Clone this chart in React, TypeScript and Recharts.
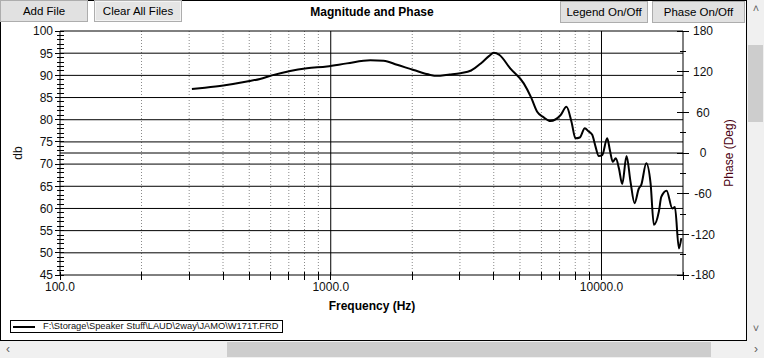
import React from 'react';
import { LineChart, Line, XAxis, YAxis, ReferenceLine, Legend } from 'recharts';

// ---- data ----
const freqHz = [
  307, 343, 401, 490, 548, 606, 708, 817, 968, 1148, 1400, 1567, 1757, 2024, 2333, 2450,
  2750, 3011, 3300, 3600, 3850, 3999, 4200, 4610, 5162, 5500, 5786, 6100, 6478, 7054,
  7424, 7750, 8014, 8313, 8678, 8950, 9241, 9500, 9772, 10060, 10497, 10750, 11010, 11294,
  11600, 11928, 12374, 12800, 13244, 13737, 14022, 14633, 15178, 15611, 16290, 16627,
  17396, 18261, 18669, 19315, 19716,
];
const dbValues = [
  86.9, 87.2, 87.7, 88.6, 89.2, 90.0, 91.0, 91.6, 92.0, 92.7, 93.4, 93.3, 92.4, 91.2, 90.1, 89.9,
  90.2, 90.5, 91.1, 92.8, 94.4, 95.1, 94.6, 91.5, 88.2, 85.0, 81.8, 80.6, 79.7, 81.0,
  82.9, 79.5, 75.8, 76.0, 78.1, 77.4, 76.6, 74.0, 71.8, 72.0, 75.8, 73.0, 70.5, 71.3,
  69.0, 65.5, 71.8, 66.0, 61.2, 64.5, 65.3, 70.2, 65.7, 56.3, 59.3, 62.6,
  64.0, 60.0, 60.3, 51.0, 53.3,
];
const fileName = 'F:\\Storage\\Speaker Stuff\\LAUD\\2way\\JAMO\\W171T.FRD';

const dbDomain = [45, 100];
const dbTicks: number[] = [];
for (let v = 45; v <= 100; v++) dbTicks.push(v);
const dbGrid = [50, 55, 60, 65, 70, 75, 80, 85, 90, 95, 100];
const phaseDomain = [-180, 180];
const phaseTicks = [-180, -150, -120, -90, -60, -30, 0, 30, 60, 90, 120, 150, 180];
const freqDomain = [100, 20000];
const freqTicks = [100, 200, 300, 400, 500, 600, 700, 800, 900, 1000, 2000, 3000, 4000, 5000, 6000, 7000, 8000, 9000, 10000, 20000];
const freqLabelTicks = [100, 1000, 10000];
const minorFreqGrid = [200, 300, 400, 500, 600, 700, 800, 900, 2000, 3000, 4000, 5000, 6000, 7000, 8000, 9000];
const majorFreqGrid = [1000, 10000];

const data = freqHz.map((f, i) => ({ freq: f, db: dbValues[i] }));

const FONT = '"Liberation Sans", Arial, sans-serif';

const LeftTick = (props: any) => {
  const { x, y, payload } = props;
  const v = payload.value;
  const major = v % 5 === 0;
  return (
    <g>
      <line x1={x - (major ? 5 : 3)} x2={x + 4} y1={y} y2={y} stroke="#000" shapeRendering="crispEdges" />
      {major && (
        <text x={x - 7} y={y} dy="0.36em" textAnchor="end" fontSize={12} fontFamily={FONT} fill="#111">
          {v}
        </text>
      )}
    </g>
  );
};

const RightTick = (props: any) => {
  const { x, y, payload } = props;
  const v = payload.value;
  const major = v % 60 === 0;
  return (
    <g>
      <line x1={x - (major ? 6 : 3)} x2={x + (major ? 6 : 3)} y1={y} y2={y} stroke="#000" shapeRendering="crispEdges" />
      {major && (
        <text x={x + 20} y={y} dy="0.36em" textAnchor="middle" fontSize={12} fontFamily={FONT} fill="#111">
          {v}
        </text>
      )}
    </g>
  );
};

const BottomTick = (props: any) => {
  const { x, y, payload } = props;
  const v = payload.value;
  const labeled = freqLabelTicks.includes(v);
  return (
    <g>
      <line x1={x} x2={x} y1={y - 3} y2={y + 5} stroke="#000" shapeRendering="crispEdges" />
      {labeled && (
        <text x={x} y={y + 12} dy="0.36em" textAnchor="middle" fontSize={12} fontFamily={FONT} fill="#111">
          {v.toFixed(1)}
        </text>
      )}
    </g>
  );
};

const LegendContent = () => (
  <div
    style={{
      border: '1px solid #000',
      width: 271,
      height: 11,
      display: 'flex',
      alignItems: 'center',
      background: '#fff',
      boxSizing: 'content-box',
    }}
  >
    <div style={{ width: 22, height: 2, background: '#000', marginLeft: 2, marginRight: 8 }} />
    <span style={{ fontFamily: FONT, fontSize: 9.3, color: '#111', whiteSpace: 'nowrap', lineHeight: '11px' }}>
      {fileName}
    </span>
  </div>
);

const btnBase: React.CSSProperties = {
  position: 'absolute',
  boxSizing: 'border-box',
  background: '#e1e1e1',
  border: '1px solid #adadad',
  fontFamily: FONT,
  fontSize: 11.5,
  color: '#000',
  display: 'flex',
  alignItems: 'center',
  justifyContent: 'center',
  whiteSpace: 'nowrap',
};

export default function App() {
  return (
    <div style={{ position: 'fixed', left: 0, top: 0, width: 764, height: 358, background: '#fff', overflow: 'hidden' }}>
      {/* panel frame */}
      <div
        style={{
          position: 'absolute',
          left: 0,
          top: 0,
          width: 747,
          height: 341,
          boxSizing: 'border-box',
          border: '1px solid #000',
          background: '#fff',
        }}
      />
      <div style={{ position: 'absolute', left: 0, top: 0 }}>
        <LineChart width={764} height={340} data={data} margin={{ top: 31, left: 15, right: 31, bottom: 35 }}>
          <XAxis
            dataKey="freq"
            type="number"
            scale="log"
            domain={freqDomain}
            ticks={freqTicks}
            interval={0}
            allowDataOverflow
            height={30}
            tickSize={0}
            tickMargin={0}
            tickLine={false}
            axisLine={{ stroke: '#000' }}
            tick={<BottomTick />}
          />
          <YAxis
            yAxisId="db"
            type="number"
            domain={dbDomain}
            ticks={dbTicks}
            interval={0}
            allowDataOverflow
            width={45}
            tickSize={0}
            tickMargin={0}
            tickLine={false}
            axisLine={{ stroke: '#000' }}
            tick={<LeftTick />}
          />
          <YAxis
            yAxisId="phase"
            orientation="right"
            type="number"
            domain={phaseDomain}
            ticks={phaseTicks}
            interval={0}
            allowDataOverflow
            width={50}
            tickSize={0}
            tickMargin={0}
            tickLine={false}
            axisLine={{ stroke: '#000' }}
            tick={<RightTick />}
          />
          {minorFreqGrid.map((f) => (
            <ReferenceLine key={'mf' + f} yAxisId="db" x={f} stroke="#8a8a8a" strokeDasharray="1 2" />
          ))}
          {majorFreqGrid.map((f) => (
            <ReferenceLine key={'Mf' + f} yAxisId="db" x={f} stroke="#000" />
          ))}
          {dbGrid.map((v) => (
            <ReferenceLine key={'g' + v} yAxisId="db" y={v} stroke="#000" />
          ))}
          <ReferenceLine yAxisId="phase" y={0} stroke="#000" />
          <Line
            yAxisId="db"
            dataKey="db"
            type="monotone"
            stroke="#000"
            strokeWidth={2}
            dot={false}
            isAnimationActive={false}
            name={fileName}
          />
          <Legend
            layout="horizontal"
            verticalAlign="middle"
            align="center"
            content={<LegendContent />}
            wrapperStyle={{ position: 'absolute', left: 10, top: 320, width: 'auto', height: 'auto' }}
          />
        </LineChart>
      </div>

      {/* titles */}
      <div style={{ position: 'absolute', left: 372, top: 12, transform: 'translate(-50%,-50%)', fontFamily: FONT, fontWeight: 'bold', fontSize: 12, whiteSpace: 'nowrap' }}>
        Magnitude and Phase
      </div>
      <div style={{ position: 'absolute', left: 372, top: 306, transform: 'translate(-50%,-50%)', fontFamily: FONT, fontWeight: 'bold', fontSize: 12, whiteSpace: 'nowrap' }}>
        Frequency (Hz)
      </div>
      <div style={{ position: 'absolute', left: 18, top: 153, transform: 'translate(-50%,-50%) rotate(-90deg)', fontFamily: FONT, fontSize: 12, whiteSpace: 'nowrap', color: '#111' }}>
        db
      </div>
      <div style={{ position: 'absolute', left: 729, top: 153, transform: 'translate(-50%,-50%) rotate(-90deg)', fontFamily: FONT, fontSize: 12, whiteSpace: 'nowrap', color: '#4a0010' }}>
        Phase (Deg)
      </div>

      {/* buttons */}
      <div style={{ ...btnBase, left: 0, top: 0, width: 88, height: 22 }}>Add File</div>
      <div style={{ ...btnBase, left: 94, top: 0, width: 88, height: 22, background: '#e5e5e5', boxShadow: 'inset 0 0 0 1px #f4f4f4' }}>Clear All Files</div>
      <div style={{ ...btnBase, left: 560, top: 1, width: 88, height: 22 }}>Legend On/Off</div>
      <div style={{ ...btnBase, left: 652, top: 1, width: 93, height: 22 }}>Phase On/Off</div>

      {/* vertical scrollbar */}
      <div style={{ position: 'absolute', left: 747, top: 0, width: 17, height: 341, background: '#f0f0f0' }} />
      <div style={{ position: 'absolute', left: 748, top: 45, width: 15, height: 77, background: '#cdcdcd' }} />
      <div style={{ position: 'absolute', left: 750, top: 2, width: 12, fontFamily: FONT, fontSize: 11, color: '#606060', textAlign: 'center' }}>˄</div>
      <div style={{ position: 'absolute', left: 750, top: 322, width: 12, fontFamily: FONT, fontSize: 11, color: '#606060', textAlign: 'center' }}>˅</div>

      {/* horizontal scrollbar */}
      <div style={{ position: 'absolute', left: 0, top: 341, width: 764, height: 17, background: '#f0f0f0' }} />
      <div style={{ position: 'absolute', left: 227, top: 342, width: 484, height: 15, background: '#cdcdcd' }} />
      <div style={{ position: 'absolute', left: 2, top: 342, width: 12, fontFamily: FONT, fontSize: 12, color: '#606060', textAlign: 'center' }}>‹</div>
      <div style={{ position: 'absolute', left: 750, top: 342, width: 12, fontFamily: FONT, fontSize: 12, color: '#606060', textAlign: 'center' }}>›</div>
    </div>
  );
}
